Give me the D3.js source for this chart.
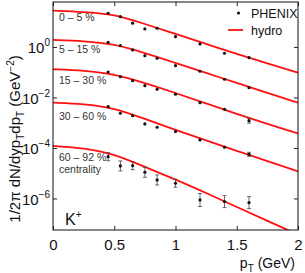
<!DOCTYPE html>
<html lang="en">
<head>
<meta charset="utf-8">
<script src="https://cdn.jsdelivr.net/npm/d3@7"></script>
<style>
  body { margin: 0; background: #fff; }
  text { font-family: "Liberation Sans", Arial, sans-serif; }
</style>
</head>
<body>
<script>

// pT bins of the PHENIX K+ points
var pt = [0.45, 0.55, 0.65, 0.75, 0.85, 1.0, 1.2, 1.4, 1.6];
// pT grid where the hydro curves were read
var ptHydro = [0, 0.25, 0.5, 0.75, 1.0, 1.25, 1.5, 1.75, 2.0];

var centralityLabels = ["0 – 5 %", "5 – 15 %", "15 – 30 %", "30 – 60 %", "60 – 92 %"];

// data points (1/2pi dN/dy pT dpT, GeV^-2)
var data0_5   = [21.6, 15.8, 8.7, 5.16, 5.5, 2.56, 1.32, 0.562, 0.377];
var data5_15  = [1.53, 1.12, 0.76, 0.452, 0.356, 0.182, 0.109, 0.0526, 0.0244];
var data15_30 = [0.102, 0.0667, 0.0462, 0.0293, 0.0211, 0.0134, 6.22e-3, 3.41e-3, 1.2e-3];
var data30_60 = [4.32e-3, 2.37e-3, 1.9e-3, 8.9e-4, 6.6e-4, 4.43e-4, 2.07e-4, 1.07e-4, 5.6e-5];
var data60_92 = [4.5e-5, 1.94e-5, 1.99e-5, 1.09e-5, 5.4e-6, 4.0e-6, 8.7e-7, 7.5e-7, 6.8e-7];

// multiplicative error (value*f, value/f)
var err0_5   = [1.05, 1.05, 1.05, 1.05, 1.05, 1.06, 1.08, 1.1, 1.12];
var err5_15  = [1.05, 1.05, 1.05, 1.05, 1.05, 1.06, 1.08, 1.1, 1.12];
var err15_30 = [1.05, 1.05, 1.05, 1.05, 1.05, 1.06, 1.08, 1.12, 1.25];
var err30_60 = [1.08, 1.08, 1.08, 1.08, 1.08, 1.08, 1.1, 1.12, 1.2];
var err60_92 = [1.44, 1.58, 1.44, 1.58, 1.58, 1.44, 1.81, 1.73, 1.73];

// hydro curves
var hydro0_5   = [27.5, 24.5, 20, 8.1, 3.27, 1.32, 0.53, 0.224, 0.096];
var hydro5_15  = [1.89, 1.73, 1.31, 0.578, 0.232, 0.0933, 0.0375, 0.0151, 0.00622];
var hydro15_30 = [0.131, 0.117, 0.0853, 0.0375, 0.0151, 0.00578, 0.00222, 8.9e-4, 3.75e-4];
var hydro30_60 = [6.22e-3, 5.53e-3, 3.84e-3, 1.41e-3, 5.16e-4, 1.98e-4, 7.6e-5, 3.05e-5, 1.17e-5];
var hydro60_92 = [1.2e-4, 1.0e-4, 5.78e-5, 1.77e-5, 5.65e-6, 1.65e-6, 4.6e-7, 1.28e-7, 3.75e-8];

var xTicks = [0, 0.5, 1, 1.5, 2];
var xTickLabels = ["0", "0.5", "1", "1.5", "2"];
var yTickExp = [0, -2, -4, -6];

var datasets = [data0_5, data5_15, data15_30, data30_60, data60_92];
var errors = [err0_5, err5_15, err15_30, err30_60, err60_92];
var hydros = [hydro0_5, hydro5_15, hydro15_30, hydro30_60, hydro60_92];

var width = 305, height = 273;
// plot box (note: "top" is reserved on window, so prefix)
var pLeft = 53, pRight = 298, pTop = 2, pBottom = 230;

var svg = d3.select("body").append("svg")
            .attr("width", width)
            .attr("height", height);

var x = d3.scaleLinear().domain([0, 2]).range([pLeft, pRight]);
var y = d3.scaleLog().domain([Math.pow(10, -7.25), Math.pow(10, 1.78)]).range([pBottom, pTop]);

svg.append("clipPath").attr("id", "clip")
   .append("rect")
   .attr("x", pLeft).attr("y", pTop)
   .attr("width", pRight - pLeft).attr("height", pBottom - pTop);

// hydro lines
var line = d3.line()
             .x(function(d, i) { return x(ptHydro[i]); })
             .y(function(d) { return y(d); })
             .curve(d3.curveBasis);

svg.append("g").attr("clip-path", "url(#clip)")
   .selectAll("path")
   .data(hydros)
   .enter()
   .append("path")
   .attr("d", line)
   .attr("fill", "none")
   .attr("stroke", "#ff1010")
   .attr("stroke-width", 1.8);

// data points with error bars
datasets.forEach(function(series, k) {
  var g = svg.append("g");
  series.forEach(function(v, i) {
    var f = errors[k][i];
    var cx = x(pt[i]);
    var y1 = y(v * f), y2 = y(v / f);
    if (y2 - y1 > 3) {
      g.append("line").attr("x1", cx).attr("x2", cx).attr("y1", y1).attr("y2", y2)
       .attr("stroke", "#444").attr("stroke-width", 0.8);
      [y1, y2].forEach(function(yy) {
        g.append("line").attr("x1", cx - 2).attr("x2", cx + 2).attr("y1", yy).attr("y2", yy)
         .attr("stroke", "#444").attr("stroke-width", 0.8);
      });
    }
    g.append("circle").attr("cx", cx).attr("cy", y(v)).attr("r", 1.6).attr("fill", "#111");
  });
});

// axes (ticks inside, on all four sides)
var xAxisB = d3.axisBottom(x).tickValues(xTicks).tickSizeInner(-4).tickSizeOuter(0)
               .tickFormat(function(d, i) { return xTickLabels[i]; });
var xAxisT = d3.axisTop(x).tickValues(xTicks).tickSizeInner(-4).tickSizeOuter(0).tickFormat("");
var yVals = yTickExp.map(function(e) { return Math.pow(10, e); });
var yAxisL = d3.axisLeft(y).tickValues(yVals).tickSizeInner(-4).tickSizeOuter(0).tickFormat("");
var yAxisR = d3.axisRight(y).tickValues(yVals).tickSizeInner(-4).tickSizeOuter(0).tickFormat("");

var gxb = svg.append("g").attr("transform", "translate(0," + pBottom + ")").call(xAxisB);
svg.append("g").attr("transform", "translate(0," + pTop + ")").call(xAxisT);
var gyl = svg.append("g").attr("transform", "translate(" + pLeft + ",0)").call(yAxisL);
svg.append("g").attr("transform", "translate(" + pRight + ",0)").call(yAxisR);

svg.selectAll(".domain").remove();
svg.selectAll(".tick line").attr("stroke", "#222");

gxb.selectAll("text")
   .attr("font-size", 15)
   .attr("fill", "#111")
   .attr("dy", null)
   .attr("y", 20)
   .attr("font-family", "Liberation Sans, Arial, sans-serif");

// y tick labels 10^n
gyl.selectAll(".tick").each(function(d, i) {
  var t = d3.select(this).append("text")
            .attr("x", -3).attr("y", 6)
            .attr("text-anchor", "end")
            .attr("font-size", 15)
            .attr("fill", "#111");
  t.append("tspan").text("10");
  t.append("tspan").attr("dy", -7).attr("font-size", 10).text(yTickExp[i] === 0 ? "0" : "\u2212" + (-yTickExp[i]));
});

// frame
svg.append("rect")
   .attr("x", pLeft).attr("y", pTop)
   .attr("width", pRight - pLeft).attr("height", pBottom - pTop)
   .attr("fill", "none").attr("stroke", "#111").attr("stroke-width", 1);

// centrality labels
var labelY = [20.5, 52.5, 84, 119.5, 161];
svg.selectAll(".clabel")
   .data(centralityLabels)
   .enter()
   .append("text")
   .attr("class", "clabel")
   .attr("x", 59)
   .attr("y", function(d, i) { return labelY[i]; })
   .attr("font-size", 10.5)
   .attr("fill", "#333")
   .text(function(d) { return d; });

svg.append("text").attr("x", 59).attr("y", 172.5)
   .attr("font-size", 10.5).attr("fill", "#333").text("centrality");

// K+
var kt = svg.append("text").attr("x", 65).attr("y", 225).attr("font-size", 16).attr("fill", "#111");
kt.append("tspan").text("K");
kt.append("tspan").attr("dy", -7).attr("font-size", 10).text("+");

// legend
svg.append("circle").attr("cx", 238.5).attr("cy", 13).attr("r", 1.6).attr("fill", "#111");
svg.append("text").attr("x", 251).attr("y", 18).attr("font-size", 12.5).attr("fill", "#111").text("PHENIX");
svg.append("line").attr("x1", 228).attr("x2", 243).attr("y1", 30).attr("y2", 30)
   .attr("stroke", "#ff1010").attr("stroke-width", 1.8);
svg.append("text").attr("x", 251).attr("y", 35).attr("font-size", 12.5).attr("fill", "#111").text("hydro");

// axis titles
var xt = svg.append("text").attr("x", 295).attr("y", 268).attr("text-anchor", "end")
            .attr("font-size", 14).attr("fill", "#111");
xt.append("tspan").text("p");
xt.append("tspan").attr("dy", 4).attr("font-size", 10).text("T");
xt.append("tspan").attr("dy", -4).text(" (GeV)");

var yt = svg.append("text")
            .attr("transform", "translate(20,139) rotate(-90)")
            .attr("text-anchor", "middle")
            .attr("font-size", 15).attr("fill", "#111");
yt.append("tspan").text("1/2\u03c0 dN/dyp");
yt.append("tspan").attr("dy", 4).attr("font-size", 10).text("T");
yt.append("tspan").attr("dy", -4).text("dp");
yt.append("tspan").attr("dy", 4).attr("font-size", 10).text("T");
yt.append("tspan").attr("dy", -4).text(" (GeV");
yt.append("tspan").attr("dy", -6).attr("font-size", 10).text("\u22122");
yt.append("tspan").attr("dy", 6).text(")");

</script>
</body>
</html>
